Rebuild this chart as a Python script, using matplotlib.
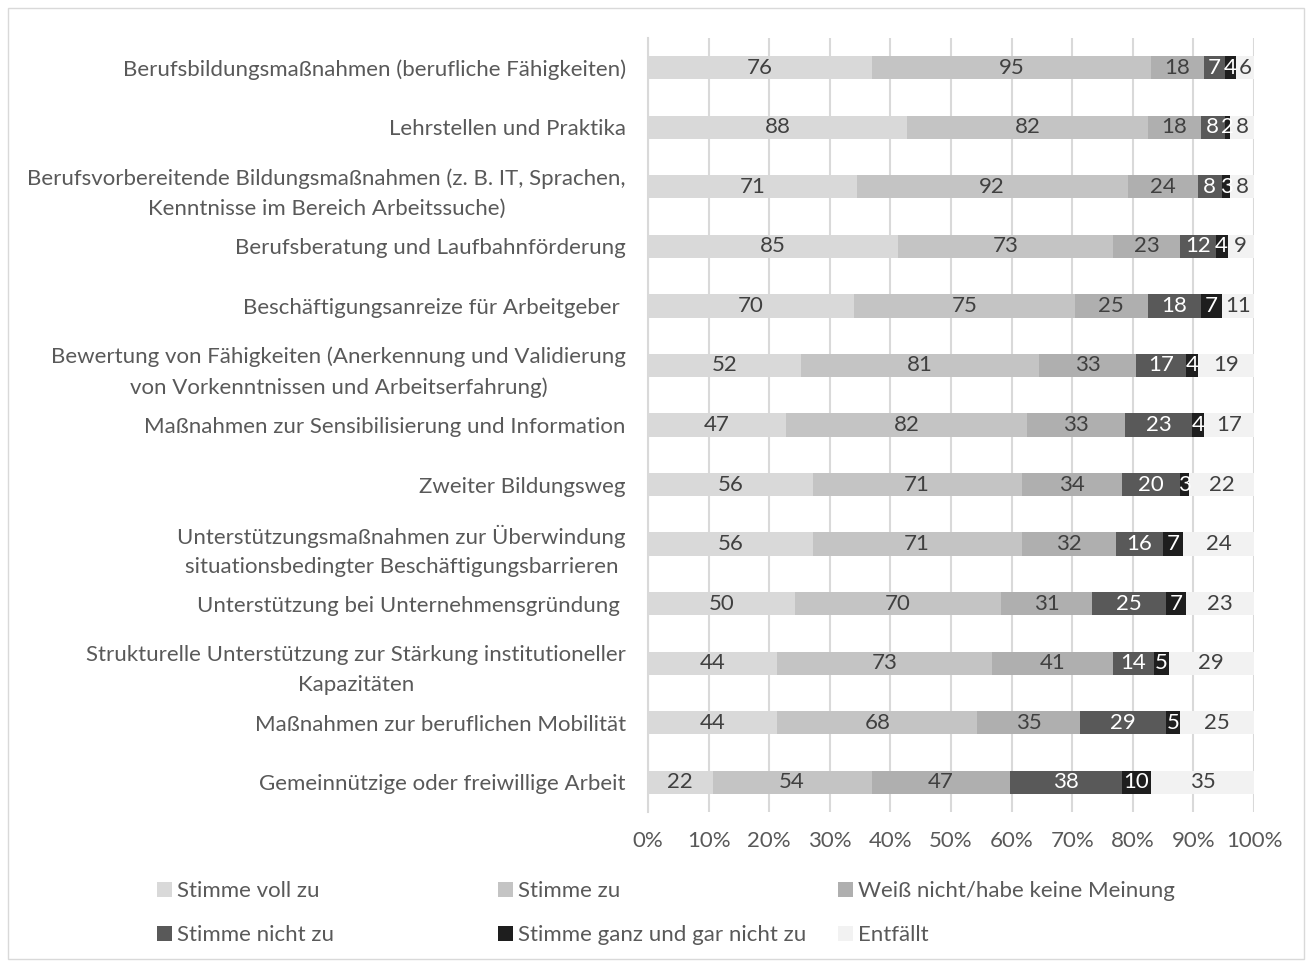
import matplotlib
matplotlib.use("Agg")
import matplotlib.pyplot as plt
from matplotlib.patches import Rectangle, Patch
import numpy as np

plt.rcParams['font.family'] = ['Lato', 'DejaVu Sans']

categories = [
    "Berufsbildungsmaßnahmen (berufliche Fähigkeiten)",
    "Lehrstellen und Praktika",
    "Berufsvorbereitende Bildungsmaßnahmen (z. B. IT, Sprachen,\nKenntnisse im Bereich Arbeitssuche)",
    "Berufsberatung und Laufbahnförderung",
    "Beschäftigungsanreize für Arbeitgeber ",
    "Bewertung von Fähigkeiten (Anerkennung und Validierung\nvon Vorkenntnissen und Arbeitserfahrung)",
    "Maßnahmen zur Sensibilisierung und Information",
    "Zweiter Bildungsweg",
    "Unterstützungsmaßnahmen zur Überwindung\nsituationsbedingter Beschäftigungsbarrieren",
    "Unterstützung bei Unternehmensgründung ",
    "Strukturelle Unterstützung zur Stärkung institutioneller\nKapazitäten",
    "Maßnahmen zur beruflichen Mobilität",
    "Gemeinnützige oder freiwillige Arbeit",
]

series_names = ["Stimme voll zu", "Stimme zu", "Weiß nicht/habe keine Meinung",
                "Stimme nicht zu", "Stimme ganz und gar nicht zu", "Entfällt"]

stimme_voll_zu = [76, 88, 71, 85, 70, 52, 47, 56, 56, 50, 44, 44, 22]
stimme_zu = [95, 82, 92, 73, 75, 81, 82, 71, 71, 70, 73, 68, 54]
weiss_nicht = [18, 18, 24, 23, 25, 33, 33, 34, 32, 31, 41, 35, 47]
stimme_nicht_zu = [7, 8, 8, 12, 18, 17, 23, 20, 16, 25, 14, 29, 38]
gar_nicht_zu = [4, 2, 3, 4, 7, 4, 4, 3, 7, 7, 5, 5, 10]
entfaellt = [6, 8, 8, 9, 11, 19, 17, 22, 24, 23, 29, 25, 35]

x_ticks = [0, 10, 20, 30, 40, 50, 60, 70, 80, 90, 100]

colors = ["#D9D9D9", "#C4C4C4", "#AFAFAF", "#595959", "#1E1E1E", "#F2F2F2"]
text_colors = ["#404040", "#404040", "#404040", "#FFFFFF", "#FFFFFF", "#404040"]

series = [stimme_voll_zu, stimme_zu, weiss_nicht, stimme_nicht_zu, gar_nicht_zu, entfaellt]
data = np.array(series, dtype=float)
totals = data.sum(axis=0)
pct = data / totals * 100

FS = 16
W, H = 1312, 963
fig = plt.figure(figsize=(W / 100, H / 100), dpi=100)
fig.patches.append(Rectangle((8 / W, 4 / H), (W - 16) / W, (H - 12) / H,
                             transform=fig.transFigure, fill=False,
                             edgecolor="#D9D9D9", linewidth=1.0))

ax_left, ax_right = 648, 1254
ax_top, ax_bottom = 38, 812
ax = fig.add_axes([ax_left / W, 1 - ax_bottom / H, (ax_right - ax_left) / W, (ax_bottom - ax_top) / H])

n = len(categories)
y = np.arange(n)
left = np.zeros(n)
for i, name in enumerate(series_names):
    ax.barh(y, pct[i], left=left, height=0.39, color=colors[i], label=name, zorder=3)
    for j in range(n):
        ax.text(left[j] + pct[i][j] / 2, y[j], f"{int(data[i][j])}", ha="center", va="center",
                color=text_colors[i], fontsize=FS, zorder=4)
    left += pct[i]

ax.set_xlim(0, 100)
ax.set_ylim(n - 0.5, -0.5)
ax.set_yticks(y)
ax.set_yticklabels(categories, fontsize=FS, color="#595959", multialignment="center",
                   linespacing=1.6)
ax.set_xticks(x_ticks)
ax.set_xticklabels([f"{t}%" for t in x_ticks], fontsize=FS, color="#595959")
ax.tick_params(axis="x", length=0, pad=14)
ax.tick_params(axis="y", length=0, pad=16)
ax.grid(axis="x", color="#D9D9D9", linewidth=1.5, zorder=0)
for s in ["top", "right", "bottom"]:
    ax.spines[s].set_visible(False)
ax.spines["left"].set_color("#D9D9D9")
ax.spines["left"].set_linewidth(1.5)

# legend in three columns placed like the reference
col_x = [157, 498, 838]
for c in range(3):
    hs = [Patch(facecolor=colors[c]), Patch(facecolor=colors[c + 3])]
    ls = [series_names[c], series_names[c + 3]]
    leg = fig.legend(hs, ls, loc="upper left", bbox_to_anchor=(col_x[c] / W, 1 - 881 / H),
                     frameon=False, fontsize=FS, handlelength=0.68, handleheight=0.68,
                     handletextpad=0.22, labelspacing=1.1, borderaxespad=0, borderpad=0)
    for t in leg.get_texts():
        t.set_color("#595959")

fig.savefig("out.png", dpi=100)
